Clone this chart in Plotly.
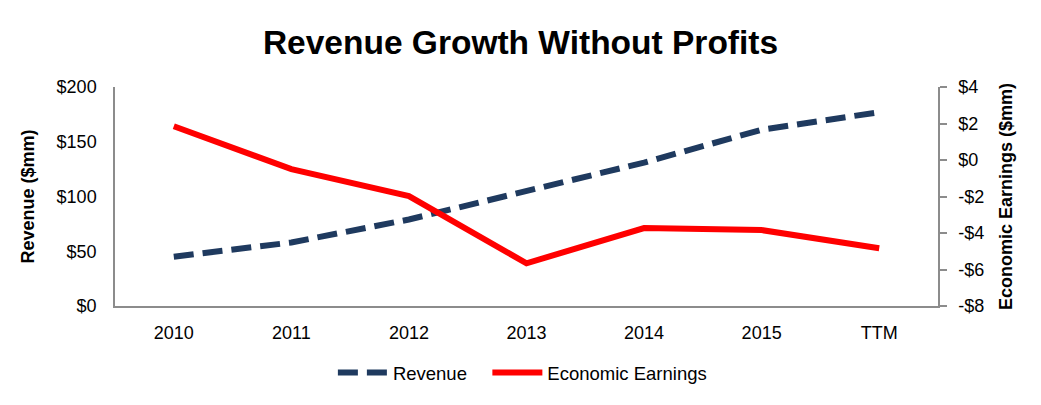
import plotly.graph_objects as go

# chart data
years = ["2010", "2011", "2012", "2013", "2014", "2015", "TTM"]
revenue = [45, 58, 79, 105, 131, 161, 177]
economic_earnings = [1.85, -0.5, -1.98, -5.66, -3.73, -3.84, -4.84]

rev_ticks = [0, 50, 100, 150, 200]
ee_ticks = [-8, -6, -4, -2, 0, 2, 4]

font = "Liberation Sans, Arial, sans-serif"
axis_grey = "#8c8c8c"

fig = go.Figure()

# trailing no-break spaces widen the gap between the two legend entries
fig.add_trace(go.Scatter(
    x=years, y=revenue, name="Revenue" + "\u00a0" * 3, mode="lines",
    line=dict(color="#1f3a5f", width=6, dash="20px,9px"),
    yaxis="y",
))
fig.add_trace(go.Scatter(
    x=years, y=economic_earnings, name="Economic Earnings", mode="lines",
    line=dict(color="#ff0000", width=6),
    yaxis="y2",
))

# page body adds an 8px margin, so the figure is a bit smaller than the window
fig.update_layout(
    width=1025, height=389,
    margin=dict(l=107, r=95, t=79, b=91, autoexpand=False),
    paper_bgcolor="#FFFFFF",
    plot_bgcolor="#FFFFFF",
    font=dict(family=font, size=18, color="#000000"),
    title=dict(
        text="<b>Revenue Growth Without Profits</b>",
        x=0.5, xanchor="center", y=0.912, yanchor="middle",
        font=dict(size=33.5, family=font, color="#000000"),
    ),
    xaxis=dict(
        type="category", range=[-0.5, 6.5],
        showline=True, linecolor=axis_grey, linewidth=1.5,
        showgrid=False, ticks="", tickfont=dict(size=18),
        ticklabelstandoff=10, automargin=False,
    ),
    yaxis=dict(
        range=[0, 200], tickvals=rev_ticks,
        ticktext=["$" + str(v) for v in rev_ticks],
        showline=True, linecolor=axis_grey, linewidth=1.5,
        showgrid=False, zeroline=False, ticks="",
        ticklabelstandoff=13, automargin=False,
        title=dict(text="<b>Revenue ($mm)</b>", font=dict(size=18), standoff=17),
        tickfont=dict(size=18),
    ),
    yaxis2=dict(
        range=[-8, 4], tickvals=ee_ticks,
        ticktext=[("-$" + str(-v)) if v < 0 else ("$" + str(v)) for v in ee_ticks],
        overlaying="y", side="right",
        showline=True, linecolor=axis_grey, linewidth=1.5,
        showgrid=False, zeroline=False,
        ticks="outside", ticklen=7, tickcolor=axis_grey, tickwidth=1.5,
        ticklabelstandoff=8, automargin=False,
        title=dict(text="<b>Economic Earnings ($mm)</b>", font=dict(size=18), standoff=16),
        tickfont=dict(size=18),
    ),
    legend=dict(
        orientation="h", x=0.495, xanchor="center", y=-0.306, yanchor="middle",
        font=dict(size=18.5), itemwidth=50,
    ),
)

fig.write_html("out.html")
